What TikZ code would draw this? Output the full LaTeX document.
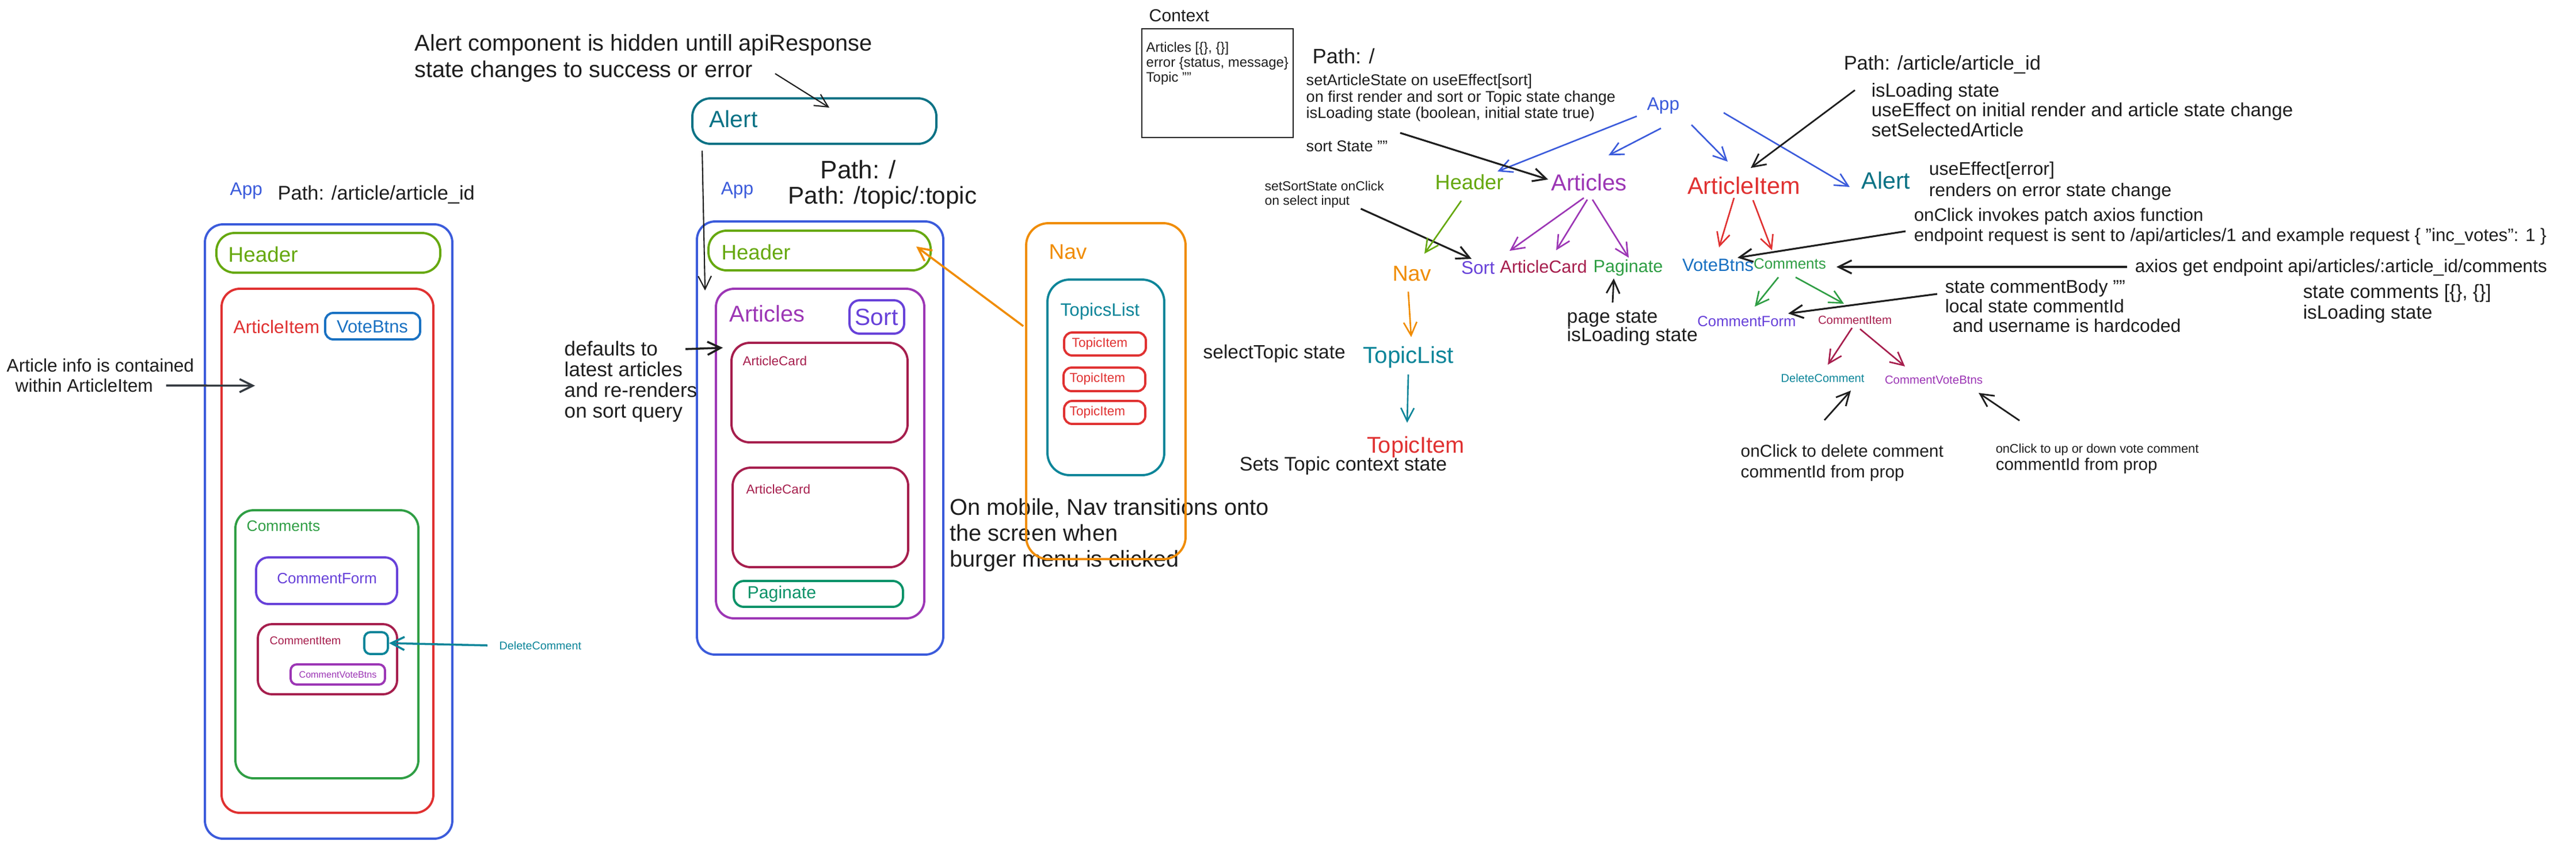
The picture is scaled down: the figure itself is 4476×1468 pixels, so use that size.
\documentclass[tikz,border=0pt]{standalone}
\usepackage{fontspec}
\setmainfont{Liberation Sans}
\usetikzlibrary{arrows.meta,calc,fit}
\newcommand\fz[2]{\fontsize{#1pt}{#2pt}\selectfont}
\definecolor{cblue}{HTML}{3B5BDB}
\definecolor{cgreenH}{HTML}{66A80F}
\definecolor{cred}{HTML}{E03131}
\definecolor{cvb}{HTML}{1971C2}
\definecolor{cgreen}{HTML}{2F9E44}
\definecolor{cviolet}{HTML}{6741D9}
\definecolor{ccrimson}{HTML}{A61E4D}
\definecolor{cpurple}{HTML}{9C36B5}
\definecolor{cteal}{HTML}{0C8599}
\definecolor{cteal2}{HTML}{0B7285}
\definecolor{cpag}{HTML}{099268}
\definecolor{corange}{HTML}{F08C00}
\definecolor{cblack}{HTML}{1E1E1E}
\definecolor{cdark}{HTML}{343A40}
\begin{document}
\begin{tikzpicture}[x=0.01cm,y=-0.01cm,
  bx/.style={draw=#1, line width=1.1pt, rounded corners=9pt, inner sep=0pt},
  lt/.style={inner sep=0pt, anchor=west, text=#1}, lt/.default=cblack,
  lc/.style={inner sep=0pt, text=#1}, lc/.default=cblack,
  arr/.style={draw=#1, line width=0.75pt, -{Straight Barb[length=6.5pt,width=6.5pt]}},
  arr/.default=cblack]
\useasboundingbox (0,0) rectangle (4476,1468);
\fill[white] (0,0) rectangle (4476,1468);

% ---------------- LEFT: App /article/article_id ----------------
\node[bx=cblue, fit={(356,390) (786,1458)}] (appLb) {};
\node[lt=cblue, font=\fz{9}{11}] (appL) at (399,332) {App};
\node[lt, font=\fz{9.8}{12}] (pathL) at (482,338) {Path: /article/article\_id};
\node[bx=cgreenH, fit={(376,405) (765,474)}] (hdrLb) {};
\node[lt=cgreenH, font=\fz{10.5}{12}] (hdrL) at (396,442) {Header};
\node[bx=cred, fit={(385,502) (753,1413)}] (aiLb) {};
\node[lt=cred, font=\fz{9}{11}] (aiL) at (405,568) {ArticleItem};
\node[bx=cvb, rounded corners=4pt, fit={(565,544) (730,590)}] (vbLb) {};
\node[lc=cvb, font=\fz{8.8}{10}] (vbL) at (647,568) {VoteBtns};
\node[lt, font=\fz{9}{11}] (infoL1) at (11,635) {Article info is contained};
\node[lt, font=\fz{9}{11}] (infoL2) at (26,670) {within ArticleItem};
\node[bx=cgreen, fit={(409,887) (727,1353)}] (comLb) {};
\node[lt=cgreen, font=\fz{7.5}{9}] (comL) at (428,914) {Comments};
\node[bx=cviolet, rounded corners=6pt, fit={(445,969) (690,1050)}] (cfLb) {};
\node[lc=cviolet, font=\fz{7.4}{9}] (cfL) at (568,1006) {CommentForm};
\node[bx=ccrimson, rounded corners=7pt, fit={(448,1085) (690,1207)}] (ciLb) {};
\node[lt=ccrimson, font=\fz{5.6}{7}] (ciL) at (468,1114) {CommentItem};
\node[bx=cteal, rounded corners=3pt, fit={(633,1099) (674,1137)}] (delLb) {};
\node[bx=cpurple, rounded corners=3pt, fit={(505,1155) (669,1190)}] (cvbLb) {};
\node[lc=cpurple, font=\fz{4.6}{6}] (cvbL) at (587,1173) {CommentVoteBtns};
\node[lt=cteal, font=\fz{5.6}{7}] (dcL) at (867,1122) {DeleteComment};

% ---------------- MIDDLE: App / and /topic/:topic ----------------
\node[lt, font=\fz{11.3}{13}] (alN1) at (720,78) {Alert component is hidden untill apiResponse};
\node[lt, font=\fz{11.3}{13}] (alN2) at (720,124) {state changes to success or error};
\node[bx=cteal2, fit={(1203,171) (1627,250)}] (alertb) {};
\node[lt=cteal2, font=\fz{11.6}{13}] (alertM) at (1232,207) {Alert};
\node[lc=cblue, font=\fz{9}{11}] (appM) at (1281,331) {App};
\node[lt, font=\fz{12.5}{14}] (pathM1) at (1425,295) {Path: /};
\node[lt, font=\fz{12}{14}] (pathM2) at (1369,344) {Path: /topic/:topic};
\node[bx=cblue, fit={(1211,385) (1639,1138)}] (appMb) {};
\node[bx=cgreenH, fit={(1231,401) (1617,470)}] (hdrMb) {};
\node[lt=cgreenH, font=\fz{10.4}{12}] (hdrM) at (1253,438) {Header};
\node[bx=cpurple, fit={(1244,502) (1606,1075)}] (artMb) {};
\node[lt=cpurple, font=\fz{11.3}{13}] (artM) at (1267,545) {Articles};
\node[bx=cviolet, rounded corners=5pt, fit={(1476,522) (1571,580)}] (sortMb) {};
\node[lc=cviolet, font=\fz{11.6}{13}] (sortM) at (1523,551) {Sort};
\node[bx=ccrimson, fit={(1271,596) (1577,769)}] (ac1b) {};
\node[lt=ccrimson, font=\fz{6.4}{8}] (ac1) at (1290,627) {ArticleCard};
\node[bx=ccrimson, fit={(1273,813) (1578,986)}] (ac2b) {};
\node[lt=ccrimson, font=\fz{6.4}{8}] (ac2) at (1296,850) {ArticleCard};
\node[bx=cpag, rounded corners=5pt, fit={(1275,1010) (1569,1055)}] (pagMb) {};
\node[lt=cpag, font=\fz{8.6}{10}] (pagM) at (1298,1033) {Paginate};
\node[lt, align=left, font=\fz{10}{10.24}] (defN) at (980,663) {defaults to\\latest articles\\and re-renders\\on sort query};
\node[lt, align=left, font=\fz{11.3}{12.8}] (mobN) at (1650,930) {On mobile, Nav transitions onto\\the screen when\\burger menu is clicked};
\node[bx=corange, rounded corners=11pt, fit={(1783,388) (2060,972)}] (navb) {};
\node[lt=corange, font=\fz{10.5}{12}] (navM) at (1822,438) {Nav};
\node[bx=cteal, rounded corners=11pt, fit={(1820,486) (2023,826)}] (tlb) {};
\node[lt=cteal, font=\fz{8.9}{10}] (tlM) at (1842,541) {TopicsList};
\node[bx=cred, rounded corners=4pt, fit={(1849,578) (1991,618)}] (ti1b) {};
\node[lt=cred, font=\fz{6.4}{8}] (ti1) at (1862,598) {TopicItem};
\node[bx=cred, rounded corners=4pt, fit={(1848,639) (1990,680)}] (ti2b) {};
\node[lt=cred, font=\fz{6.4}{8}] (ti2) at (1858,659) {TopicItem};
\node[bx=cred, rounded corners=4pt, fit={(1849,697) (1990,737)}] (ti3b) {};
\node[lt=cred, font=\fz{6.4}{8}] (ti3) at (1858,717) {TopicItem};

% ---------------- RIGHT: tree ----------------
\node[lt, font=\fz{8.6}{10}] (ctxT) at (1996,27) {Context};
\node[draw=cblack, line width=0.7pt, inner sep=0pt, fit={(1984,50) (2247,239)}] (ctxb) {};
\node[lt, align=left, font=\fz{6.8}{7.4}, anchor=north west] (ctxN) at (1991,72) {Articles [\{\}, \{\}]\\error \{status, message\}\\Topic ""};
\node[lt, font=\fz{10.3}{12}] (pathR1) at (2280,98) {Path: /};
\node[lt, align=left, font=\fz{7.7}{8.1}] (saN) at (2269,170) {setArticleState on useEffect[sort]\\on first render and sort or Topic state change\\isLoading state (boolean, initial state true)};
\node[lt, font=\fz{7.7}{9}] (ssN) at (2269,254) {sort State ""};
\node[lt, align=left, font=\fz{6.5}{7.1}] (sssN) at (2197,338) {setSortState onClick\\on select input};
\node[lc=cblue, font=\fz{9}{11}] (appR) at (2890,184) {App};
\node[lc=cgreenH, font=\fz{10.3}{12}] (hdrR) at (2553,317) {Header};
\node[lc=cpurple, font=\fz{11.4}{13}] (artR) at (2761,317) {Articles};
\node[lc=cred, font=\fz{11.8}{13}] (aiR) at (3030,323) {ArticleItem};
\node[lc=cteal2, font=\fz{11.7}{13}] (alertR) at (3277,314) {Alert};
\node[lc=corange, font=\fz{10.7}{12}] (navR) at (2453,476) {Nav};
\node[lc=cviolet, font=\fz{9}{11}] (sortR) at (2568,466) {Sort};
\node[lc=ccrimson, font=\fz{8.7}{10}] (acR) at (2682,464) {ArticleCard};
\node[lc=cgreen, font=\fz{8.7}{10}] (pagR) at (2829,466) {Paginate};
\node[lc=cvb, font=\fz{8.8}{10}] (vbR) at (2985,461) {VoteBtns};
\node[lc=cgreen, font=\fz{7.4}{9}] (comR) at (3110,459) {Comments};
\node[lc=cviolet, font=\fz{7.3}{9}] (cfR) at (3035,559) {CommentForm};
\node[lc=ccrimson, font=\fz{5.8}{7}] (ciR) at (3223,556) {CommentItem};
\node[lc=cteal, font=\fz{5.7}{7}] (dcR) at (3167,657) {DeleteComment};
\node[lc=cpurple, font=\fz{5.8}{7}] (cvbR) at (3360,660) {CommentVoteBtns};
\node[lt, align=left, font=\fz{9.6}{9.1}] (pgN) at (2722,570) {page state\\isLoading state};
\node[lt, font=\fz{9.5}{11}] (stN) at (2090,615) {selectTopic state};
\node[lc=cteal, font=\fz{11.5}{13}] (tlR) at (2447,621) {TopicList};
\node[lc=cred, font=\fz{11.3}{13}] (tiR) at (2460,777) {TopicItem};
\node[lc, font=\fz{9.7}{11}] (stcN) at (2334,810) {Sets Topic context state};
\node[lt, font=\fz{9.8}{12}] (pathR2) at (3203,112) {Path: /article/article\_id};
\node[lt, align=left, font=\fz{9.4}{9.8}] (ilN) at (3251,191) {isLoading state\\useEffect on initial render and article state change\\setSelectedArticle};
\node[lt, align=left, font=\fz{9.1}{10.5}] (ueN) at (3351,315) {useEffect[error]\\renders on error state change};
\node[lt, align=left, font=\fz{8.9}{10}] (ocN) at (3325,394) {onClick invokes patch axios function\\endpoint request is sent to /api/articles/1 and example request \{ "inc\_votes": 1 \}};
\node[lt, font=\fz{9}{11}] (axN) at (3709,465) {axios get endpoint api/articles/:article\_id/comments};
\node[lt, align=left, font=\fz{9.1}{9.8}] (scN) at (3379,532) {state commentBody ""\\local state commentId\\\hspace*{3.7pt}and username is hardcoded};
\node[lt, align=left, font=\fz{9.5}{10.2}] (scmN) at (4001,528) {state comments [\{\}, \{\}]\\isLoading state};
\node[lt, align=left, font=\fz{8.5}{10.2}] (odN) at (3024,805) {onClick to delete comment\\commentId from prop};
\node[lt, font=\fz{6.2}{7}] (ovN1) at (3467,782) {onClick to up or down vote comment};
\node[lt, font=\fz{8.4}{10}] (ovN2) at (3467,810) {commentId from prop};

% ---------------- connectors ----------------
% left
\draw[arr=cdark, line width=1pt] ($(infoL2.east)+(22,0)$) -- ($(aiLb.west)+(60,-287)$);
\draw[arr=cteal, line width=1pt] ($(dcL.west)+(-20,0)$) -- (delLb.east);
% middle
\draw[arr, line width=0.6pt] ($(alN2.east)+(38,4)$) -- ($(alertb.north)+(26,18)$);
\draw[arr, line width=0.6pt] ($(alertb.south west)+(19,10)$) -- ($(artMb.north west)+(-17,5)$);
\draw[arr, line width=1pt] ($(defN.north east)+(-21,15)$) -- ($(ac1b.west)+(-13,-78)$);
\draw[arr=corange, line width=1pt] ($(navb.west)+(-3,-113)$) -- ($(hdrMb.east)+(-27,-7)$);
% right tree
\draw[arr=cblue] ($(appR)+(-46,18)$) -- ($(hdrR)+(49,-19)$);
\draw[arr=cblue] ($(appR)+(-4,39)$) -- ($(artR)+(34,-47)$);
\draw[arr=cblue] ($(appR)+(49,33)$) -- ($(aiR)+(-28,-42)$);
\draw[arr=cblue] ($(appR)+(105,12)$) -- ($(alertR)+(-63,11)$);
\draw[arr, line width=0.9pt] ($(ssN.east)+(21,-23)$) -- ($(artR)+(-71,-5)$);
\draw[arr, line width=0.9pt] ($(sssN.south east)+(-41,1)$) -- ($(sortR)+(-11,-16)$);
\draw[arr=cgreenH] ($(hdrR)+(-14,32)$) -- ($(navR)+(22,-35)$);
\draw[arr=cpurple] ($(artR)+(-9,27)$) -- ($(sortR)+(55,-30)$);
\draw[arr=cpurple] ($(artR)+(-3,30)$) -- ($(acR)+(22,-29)$);
\draw[arr=cpurple] ($(artR)+(6,30)$) -- ($(pagR)+(1,-18)$);
\draw[arr, line width=0.8pt] ($(pgN.north west)+(80,-13)$) -- ($(pagR)+(-25,18)$);
\draw[arr=cred] ($(aiR)+(-17,21)$) -- ($(vbR)+(2,-31)$);
\draw[arr=cred] ($(aiR)+(16,25)$) -- ($(comR)+(-31,-24)$);
\draw[arr, line width=0.9pt] ($(ocN.west)+(-14,8)$) -- ($(vbR)+(34,-13)$);
\draw[arr, line width=0.9pt] ($(axN.west)+(-13,-1)$) -- ($(comR)+(81,5)$);
\draw[arr, line width=0.9pt] ($(scN.west)+(-13,-21)$) -- ($(cfR)+(72,-14)$);
\draw[arr=cgreen] ($(comR)+(-20,23)$) -- ($(cfR)+(14,-26)$);
\draw[arr=cgreen] ($(comR)+(10,23)$) -- ($(ciR)+(-19,-28)$);
\draw[arr=ccrimson] ($(ciR)+(-5,14)$) -- ($(dcR)+(9,-23)$);
\draw[arr=ccrimson] ($(ciR)+(9,16)$) -- ($(cvbR)+(-50,-23)$);
\draw[arr, line width=0.8pt] ($(odN.north west)+(146,-42)$) -- ($(dcR)+(49,22)$);
\draw[arr, line width=0.8pt] ($(ovN1.north west)+(42,-40)$) -- ($(cvbR)+(78,23)$);
\draw[arr, line width=0.8pt] ($(ilN.north west)+(-28,13)$) -- ($(aiR)+(12,-31)$);
\draw[arr=corange] ($(navR)+(-6,31)$) -- ($(tlR)+(5,-35)$);
\draw[arr=cteal] ($(tlR)+(0,30)$) -- ($(tiR)+(-15,-42)$);
\end{tikzpicture}
\end{document}
